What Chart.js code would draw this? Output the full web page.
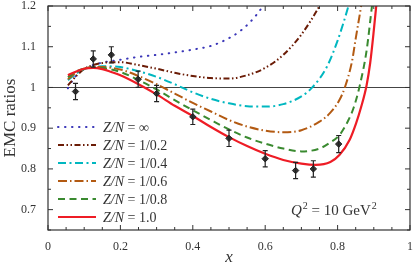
<!DOCTYPE html>
<html>
<head>
<meta charset="utf-8">
<script src="https://cdn.jsdelivr.net/npm/chart.js@4.4.1/dist/chart.umd.min.js"></script>
<style>
  body { margin: 0; background: #fff; }
  #wrap { width: 415px; height: 266px; }
</style>
</head>
<body>
<div id="wrap"><canvas id="emc" width="415" height="266"></canvas></div>
<script>
// measured points (x, ratio, error)
const dataX = [0.076, 0.125, 0.175, 0.249, 0.30, 0.40, 0.50, 0.60, 0.684, 0.733, 0.803];
const dataY = [0.99, 1.07, 1.08, 1.02, 0.985, 0.928, 0.875, 0.825, 0.796, 0.80, 0.861];
const dataErr = [0.02, 0.02, 0.02, 0.02, 0.02, 0.019, 0.02, 0.02, 0.02, 0.02, 0.021];

// model curves, one pair of arrays per Z/N
const xInf = [0.055, 0.07, 0.09, 0.11, 0.125, 0.15, 0.2, 0.25, 0.3, 0.35, 0.4, 0.45, 0.5, 0.53, 0.56, 0.59, 0.61];
const yInf = [0.998, 1.02, 1.04, 1.05, 1.055, 1.061, 1.068, 1.075, 1.08, 1.086, 1.093, 1.102, 1.121, 1.138, 1.162, 1.195, 1.225];

const x02 = [0.055, 0.08, 0.1, 0.125, 0.15, 0.175, 0.2, 0.25, 0.3, 0.35, 0.4, 0.45, 0.5, 0.55, 0.6, 0.65, 0.7, 0.75, 0.77];
const y02 = [1.005, 1.03, 1.045, 1.055, 1.06, 1.062, 1.062, 1.055, 1.046, 1.036, 1.028, 1.023, 1.022, 1.03, 1.048, 1.08, 1.13, 1.2, 1.235];

const x04 = [0.055, 0.08, 0.1, 0.125, 0.15, 0.2, 0.25, 0.3, 0.35, 0.4, 0.45, 0.5, 0.55, 0.6, 0.65, 0.7, 0.73, 0.77, 0.8, 0.83, 0.845];
const y04 = [1.018, 1.035, 1.045, 1.05, 1.052, 1.05, 1.04, 1.026, 1.008, 0.988, 0.972, 0.961, 0.954, 0.953, 0.959, 0.978, 1.0, 1.05, 1.115, 1.2, 1.25];

const x06 = [0.055, 0.08, 0.1, 0.125, 0.15, 0.2, 0.25, 0.3, 0.35, 0.4, 0.45, 0.5, 0.55, 0.6, 0.65, 0.7, 0.75, 0.78, 0.805, 0.82, 0.84, 0.85, 0.865, 0.875];
const y06 = [1.02, 1.038, 1.046, 1.05, 1.05, 1.044, 1.028, 1.008, 0.985, 0.962, 0.941, 0.92, 0.904, 0.894, 0.89, 0.895, 0.916, 0.938, 0.969, 1.0, 1.065, 1.12, 1.2, 1.26];

const x08 = [0.055, 0.08, 0.1, 0.125, 0.15, 0.2, 0.25, 0.3, 0.35, 0.4, 0.45, 0.5, 0.55, 0.6, 0.65, 0.7, 0.75, 0.78, 0.805, 0.83, 0.845, 0.86, 0.88, 0.895, 0.905];
const y08 = [1.025, 1.04, 1.046, 1.049, 1.048, 1.038, 1.018, 0.995, 0.969, 0.944, 0.92, 0.897, 0.877, 0.862, 0.85, 0.843, 0.85, 0.865, 0.883, 0.92, 0.952, 1.0, 1.09, 1.2, 1.27];

const x10 = [0.055, 0.08, 0.1, 0.125, 0.15, 0.175, 0.2, 0.25, 0.3, 0.35, 0.4, 0.45, 0.5, 0.55, 0.6, 0.65, 0.7, 0.74, 0.78, 0.805, 0.833, 0.851, 0.865, 0.88, 0.89, 0.9, 0.91];
const y10 = [1.03, 1.04, 1.046, 1.048, 1.045, 1.038, 1.03, 1.008, 0.983, 0.955, 0.93, 0.903, 0.878, 0.856, 0.837, 0.822, 0.813, 0.81, 0.817, 0.834, 0.871, 0.912, 0.952, 1.005, 1.06, 1.14, 1.23];

const legendLabels = ['∞', '1/0.2', '1/0.4', '1/0.6', '1/0.8', '1.0'];

const SERIF = '"Liberation Serif", "DejaVu Serif", serif';

function pts(xs, ys) {
    return xs.map((x, i) => ({ x: x, y: ys[i] }));
}

function curve(label, xs, ys, color, dash, width, cap) {
    return {
        label: label,
        data: pts(xs, ys),
        borderColor: color,
        borderWidth: width,
        borderDash: dash,
        borderCapStyle: cap || 'butt',
        pointRadius: 0,
        fill: false,
        cubicInterpolationMode: 'monotone',
        clip: 0,
    };
}

// frame, inward ticks, y=1 line, error bars, legend and labels
const decorations = {
    id: 'decorations',
    beforeDatasetsDraw(chart) {
        const { ctx, chartArea: a, scales: { x, y } } = chart;
        ctx.save();
        ctx.strokeStyle = '#444';
        ctx.lineWidth = 1;
        const y1 = Math.round(y.getPixelForValue(1)) + 0.5;
        ctx.beginPath();
        ctx.moveTo(a.left, y1);
        ctx.lineTo(a.right, y1);
        ctx.stroke();
        ctx.restore();
    },
    afterDatasetsDraw(chart) {
        const { ctx, chartArea: a, scales: { x, y } } = chart;
        ctx.save();

        // error bars
        ctx.strokeStyle = '#222';
        ctx.lineWidth = 1.2;
        dataX.forEach((v, i) => {
            const px = x.getPixelForValue(v);
            const top = y.getPixelForValue(dataY[i] + dataErr[i]);
            const bot = y.getPixelForValue(dataY[i] - dataErr[i]);
            ctx.beginPath();
            ctx.moveTo(px, top); ctx.lineTo(px, bot);
            ctx.moveTo(px - 2.5, top); ctx.lineTo(px + 2.5, top);
            ctx.moveTo(px - 2.5, bot); ctx.lineTo(px + 2.5, bot);
            ctx.stroke();
        });

        // frame
        ctx.strokeStyle = '#333';
        ctx.lineWidth = 1.2;
        ctx.strokeRect(a.left, a.top, a.right - a.left, a.bottom - a.top);

        // inward ticks on all four sides
        ctx.lineWidth = 1;
        for (let k = 0; k <= 20; k++) {
            const v = k * 0.05;
            const px = x.getPixelForValue(v);
            const len = k % 4 === 0 ? 5 : 3;
            ctx.beginPath();
            ctx.moveTo(px, a.bottom); ctx.lineTo(px, a.bottom - len);
            ctx.moveTo(px, a.top); ctx.lineTo(px, a.top + len);
            ctx.stroke();
        }
        for (let k = 13; k <= 24; k++) {
            const v = k * 0.05;
            const py = y.getPixelForValue(v);
            const len = k % 2 === 0 ? 5 : 3;
            ctx.beginPath();
            ctx.moveTo(a.left, py); ctx.lineTo(a.left + len, py);
            ctx.moveTo(a.right, py); ctx.lineTo(a.right - len, py);
            ctx.stroke();
        }

        // legend
        const curves = chart.data.datasets.slice(1).reverse();
        ctx.textBaseline = 'middle';
        curves.forEach((ds, i) => {
            const ry = 127 + i * 18;
            ctx.strokeStyle = ds.borderColor;
            ctx.lineWidth = ds.borderWidth;
            ctx.lineCap = ds.borderCapStyle;
            ctx.setLineDash(ds.borderDash);
            ctx.beginPath();
            ctx.moveTo(58, ry); ctx.lineTo(96, ry);
            ctx.stroke();
            ctx.setLineDash([]);
            ctx.lineCap = 'butt';
            ctx.fillStyle = '#333';
            let tx = 103;
            ctx.font = 'italic 14px ' + SERIF;
            ctx.fillText('Z/N', tx, ry + 1);
            tx += ctx.measureText('Z/N').width;
            ctx.font = '14px ' + SERIF;
            ctx.fillText(' = ' + legendLabels[i], tx, ry + 1);
        });

        // Q^2 annotation
        ctx.fillStyle = '#333';
        ctx.textBaseline = 'alphabetic';
        let qx = 291;
        const qy = 215;
        ctx.font = 'italic 15px ' + SERIF;
        ctx.fillText('Q', qx, qy);
        qx += ctx.measureText('Q').width + 1;
        ctx.font = '10px ' + SERIF;
        ctx.fillText('2', qx, qy - 6);
        qx += ctx.measureText('2').width;
        ctx.font = '15px ' + SERIF;
        ctx.fillText(' = 10 GeV', qx, qy);
        qx += ctx.measureText(' = 10 GeV').width + 1;
        ctx.font = '10px ' + SERIF;
        ctx.fillText('2', qx, qy - 6);

        // axis titles
        ctx.textAlign = 'center';
        ctx.textBaseline = 'middle';
        ctx.font = 'italic 17px ' + SERIF;
        ctx.fillText('x', (a.left + a.right) / 2, 258);
        ctx.translate(11, (a.top + a.bottom) / 2);
        ctx.rotate(-Math.PI / 2);
        ctx.font = '17px ' + SERIF;
        ctx.fillText('EMC ratios', 0, 0);
        ctx.restore();
    }
};

const chart = new Chart(document.getElementById('emc'), {
    type: 'line',
    data: {
        datasets: [
            {
                label: 'data',
                data: pts(dataX, dataY),
                showLine: false,
                pointStyle: 'rectRot',
                pointRadius: 3.2,
                backgroundColor: '#333',
                borderColor: '#222',
                borderWidth: 1,
                clip: false,
            },
            curve('1.0', x10, y10, '#ee1c25', [], 2.2),
            curve('1/0.8', x08, y08, '#3a8a30', [7, 4.5], 2),
            curve('1/0.6', x06, y06, '#b35a12', [9, 3, 1.5, 3], 2),
            curve('1/0.4', x04, y04, '#00b7c0', [8, 3.5, 2, 3.5], 2),
            curve('1/0.2', x02, y02, '#6b1c06', [6, 2.5, 1.5, 2.5, 1.5, 2.5], 2),
            curve('inf', xInf, yInf, '#3a36b8', [0.5, 6.5], 2, 'round'),
        ],
    },
    options: {
        responsive: false,
        devicePixelRatio: 1,
        animation: false,
        layout: { padding: { top: 6, right: 4, left: 0, bottom: 0 } },
        plugins: {
            legend: { display: false },
            tooltip: { enabled: false },
        },
        scales: {
            x: {
                type: 'linear',
                min: 0,
                max: 1,
                grid: { display: false, drawTicks: false },
                border: { display: false },
                ticks: {
                    stepSize: 0.2,
                    padding: 10,
                    color: '#333',
                    font: { family: SERIF, size: 12 },
                    maxRotation: 0,
                    callback: v => String(Number(v.toFixed(1))),
                },
                afterFit: s => { s.height = 36; s.paddingLeft = 0; s.paddingRight = 0; },
            },
            y: {
                min: 0.65,
                max: 1.2,
                grid: { display: false, drawTicks: false },
                border: { display: false },
                ticks: {
                    stepSize: 0.05,
                    padding: 12,
                    color: '#333',
                    font: { family: SERIF, size: 12 },
                    autoSkip: false,
                    callback: v => {
                        const t = v * 10;
                        return Math.abs(t - Math.round(t)) < 1e-6 ? String(Number(v.toFixed(1))) : '';
                    },
                },
                afterFit: s => { s.width = 48; s.paddingTop = 0; s.paddingBottom = 0; },
            },
        },
    },
    plugins: [decorations],
});
</script>
</body>
</html>
